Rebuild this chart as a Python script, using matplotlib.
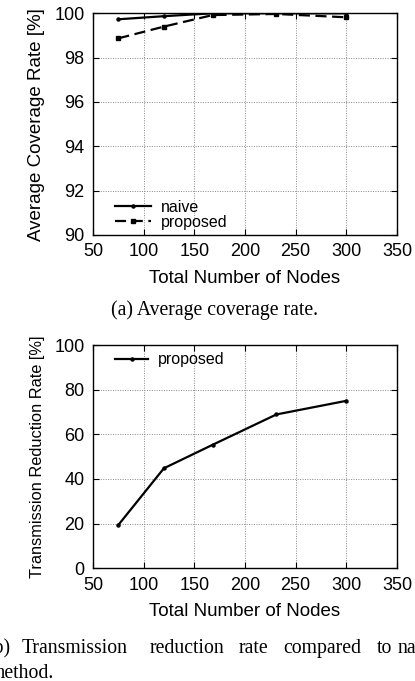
import matplotlib
matplotlib.use("Agg")
import matplotlib.pyplot as plt

nodes = [75, 120, 168, 231, 300]
naive_cov = [99.73, 99.87, 100.0, 100.0, 100.0]
proposed_cov = [98.87, 99.40, 99.92, 99.97, 99.82]
proposed_red = [19.4, 44.8, 55.3, 68.9, 75.0]

xticks = [50, 100, 150, 200, 250, 300, 350]
yticks_a = [90, 92, 94, 96, 98, 100]
yticks_b = [0, 20, 40, 60, 80, 100]

W, H = 415, 681
fig = plt.figure(figsize=(W / 100, H / 100), dpi=100)
sans = ["Liberation Sans", "DejaVu Sans"]
serif = ["Liberation Serif", "DejaVu Serif"]

def px_axes(l, t, r, b):
    return fig.add_axes([l / W, 1 - b / H, (r - l) / W, (b - t) / H])

def style(ax, yticks):
    ax.set_xlim(50, 350)
    ax.set_xticks(xticks)
    ax.set_yticks(yticks)
    ax.set_ylim(yticks[0], yticks[-1])
    ax.tick_params(direction="in", length=4, width=0.8, top=True, right=True,
                   labelsize=13, pad=6)
    for lab in ax.get_xticklabels() + ax.get_yticklabels():
        lab.set_fontfamily(sans)
    ax.grid(True, color="#888888", linestyle=(0, (1, 1.5)), linewidth=0.7)
    for s in ax.spines.values():
        s.set_linewidth(1.0)

# (a)
ax1 = px_axes(93, 13.3, 397, 235)
ax1.plot(nodes, naive_cov, color="black", lw=1.6, marker="o", ms=2.2, label="naive")
ax1.plot(nodes, proposed_cov, color="black", lw=1.6, marker="s", ms=2.5,
         dashes=(5, 2.5), label="proposed")
style(ax1, yticks_a)
ax1.set_xlabel("Total Number of Nodes", fontsize=13.5, family=sans, labelpad=7)
ax1.set_ylabel("Average Coverage Rate [%]", fontsize=13.5, family=sans, labelpad=7)
ax1.legend(loc="lower left", bbox_to_anchor=(0.04, -0.02), frameon=False,
           prop={"family": sans, "size": 11.5}, handlelength=2.3, handletextpad=0.6,
           labelspacing=0.0, borderaxespad=0.2)

# (b)
ax2 = px_axes(93, 345, 397, 568.3)
ax2.plot(nodes, proposed_red, color="black", lw=1.6, marker="o", ms=2.2, label="proposed")
style(ax2, yticks_b)
ax2.set_xlabel("Total Number of Nodes", fontsize=13.5, family=sans, labelpad=7)
ax2.set_ylabel("Transmission Reduction Rate [%]", fontsize=11.8, family=sans, labelpad=7)
ax2.legend(loc="upper left", bbox_to_anchor=(0.04, 1.01), frameon=False,
           prop={"family": sans, "size": 11.5}, handlelength=2.1, handletextpad=0.6,
           borderaxespad=0.2)

# captions
fig.text(214 / W, 1 - 315 / H, "(a) Average coverage rate.", ha="center", va="baseline",
         family=serif, fontsize=14.2)
words = [("(b)", -13), ("Transmission", 22), ("reduction", 150), ("rate", 239),
         ("compared", 283), ("to", 377), ("naive", 398)]
for w, x in words:
    fig.text(x / W, 1 - 653 / H, w, ha="left", va="baseline", family=serif, fontsize=14.2)
fig.text(-10 / W, 1 - 678 / H, "method.", ha="left", va="baseline", family=serif, fontsize=14.2)

fig.savefig("out.png", dpi=100)
